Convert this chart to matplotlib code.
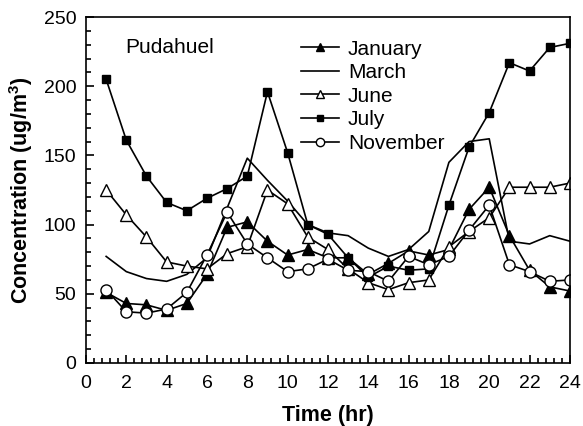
import numpy as np
import matplotlib
matplotlib.use("Agg")
import matplotlib.pyplot as plt
from matplotlib.ticker import MultipleLocator

plt.rcParams['font.family'] = ['Liberation Sans', 'DejaVu Sans']
plt.rcParams['mathtext.fontset'] = 'custom'
plt.rcParams['mathtext.rm'] = 'Liberation Sans'
plt.rcParams['mathtext.bf'] = 'Liberation Sans:bold'

hours = list(range(1, 25))
january = [51, 43, 42, 38, 43, 64, 98, 102, 88, 78, 82, 76, 76, 64, 72, 81, 78, 82, 111, 127, 92, 67, 55, 52]
march = [77, 66, 61, 59, 64, 76, 112, 148, 132, 117, 100, 94, 92, 83, 77, 82, 95, 145, 160, 162, 88, 86, 92, 88]
june = [125, 107, 91, 73, 70, 68, 79, 84, 125, 115, 91, 82, 68, 58, 53, 58, 60, 84, 95, 105, 127, 127, 127, 130]
july = [205, 161, 135, 116, 110, 119, 126, 135, 196, 152, 100, 93, 76, 62, 70, 67, 68, 114, 156, 181, 217, 211, 228, 231]
november = [53, 37, 36, 39, 51, 78, 109, 86, 76, 66, 68, 75, 67, 66, 59, 77, 71, 77, 96, 114, 71, 66, 59, 60]

fig = plt.figure(figsize=(5.83, 4.26), dpi=100)
ax = fig.add_axes([0.1475, 0.148, 0.830, 0.812])

lw = 1.2
ax.plot(hours, january, color="black", lw=lw, marker="^", ms=8, mfc="black", mec="black", label="January")
ax.plot(hours, march, color="black", lw=lw, label="March")
ax.plot(hours, june, color="black", lw=lw, marker="^", ms=8, mfc="white", mec="black", mew=1.0, label="June")
ax.plot(hours, july, color="black", lw=lw, marker="s", ms=6, mfc="black", mec="black", label="July")
ax.plot(hours, november, color="black", lw=lw, marker="o", ms=8, mfc="white", mec="black", mew=1.0, label="November")

ax.set_xlim(0, 24)
ax.set_ylim(0, 250)
ax.xaxis.set_major_locator(MultipleLocator(2))
ax.xaxis.set_minor_locator(MultipleLocator(0.4))
ax.yaxis.set_major_locator(MultipleLocator(50))
ax.yaxis.set_minor_locator(MultipleLocator(10))
ax.tick_params(which="both", direction="in", labelsize=14, width=1.2)
ax.tick_params(which="major", length=6, pad=7)
ax.tick_params(axis="x", which="major", pad=9)
ax.tick_params(which="minor", length=3.5)
for s in ax.spines.values():
    s.set_linewidth(1.2)

ax.set_xlabel("Time (hr)", fontsize=15.5, fontweight="bold", labelpad=9)
ax.set_ylabel(r"Concentration (ug/m$^{\mathbf{3}}$)", fontsize=15.5, fontweight="bold", labelpad=6)

ax.text(1.95, 228, "Pudahuel", fontsize=15, va="center")

ax.legend(loc="upper left", bbox_to_anchor=(0.423, 0.965), frameon=False, fontsize=15,
          handlelength=1.8, handletextpad=0.45, labelspacing=0.22, borderpad=0, markerscale=0.75)

plt.savefig("out.png", dpi=100)
